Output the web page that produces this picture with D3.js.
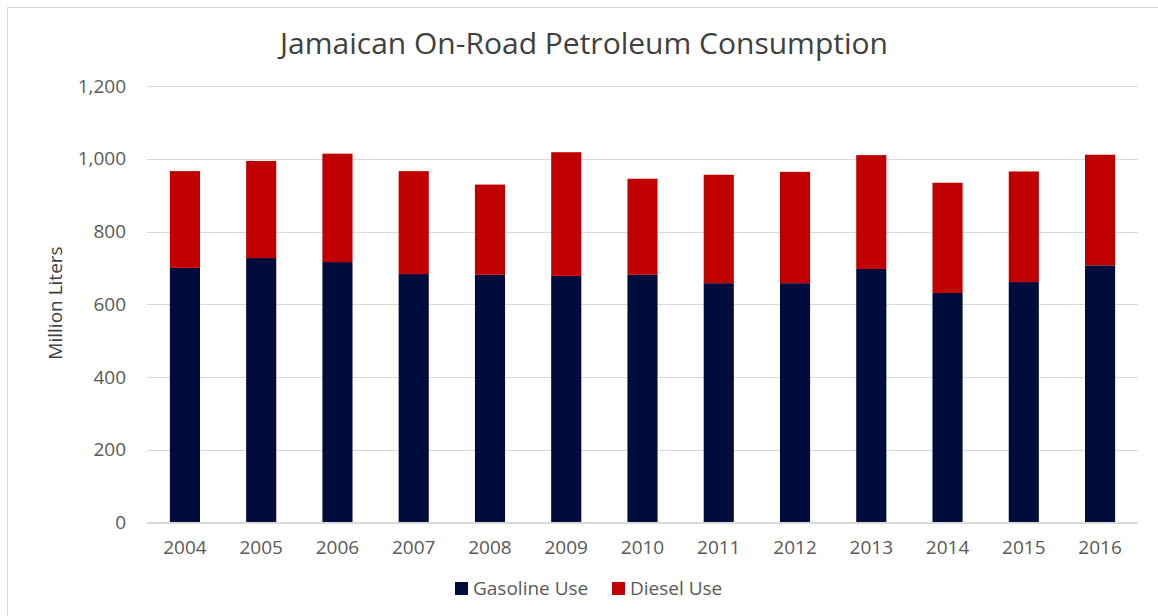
<!DOCTYPE html>
<html>
<head>
<meta charset="utf-8">
<script src="https://cdn.jsdelivr.net/npm/d3@7"></script>
<style>
  body { margin: 0; background: #fff; }
  text { font-family: "Open Sans", sans-serif; }
</style>
</head>
<body>
<div class="container"></div>
<script>
const years = ['2004','2005','2006','2007','2008','2009','2010','2011','2012','2013','2014','2015','2016'];
const gasoline = [700, 727, 716, 683, 681, 678, 681, 658, 658, 697, 631, 661, 707];
const diesel   = [266, 267, 298, 283, 248, 340, 264, 298, 306, 313, 303, 304, 304];
const yTicks = [0, 200, 400, 600, 800, 1000, 1200];
const seriesNames = ['Gasoline Use', 'Diesel Use'];
const colors = ['#000c3b', '#c00000'];

const W = 1158, H = 616;

const svg = d3.select('.container')
    .append('svg')
    .attr('width', W)
    .attr('height', H);

// chart frame
svg.append('rect')
    .attr('x', 7.5).attr('y', 7.5)
    .attr('width', 1170).attr('height', 640)
    .attr('fill', 'none')
    .attr('stroke', '#d9d9d9');

let rows = years.map((y, i) => ({ year: y, gas: gasoline[i], diesel: diesel[i] }));
let stacked = d3.stack().keys(['gas', 'diesel'])(rows);

const x = d3.scaleBand()
    .domain(years)
    .range([147, 1138])
    .paddingInner(0.605)
    .paddingOuter(0.3);

const y = d3.scaleLinear()
    .domain([0, 1200])
    .range([522.5, 86]);

// gridlines
svg.append('g')
    .selectAll('line')
    .data(yTicks)
    .enter()
    .append('line')
    .attr('x1', 147).attr('x2', 1138)
    .attr('y1', d => Math.round(y(d)) + 0.5)
    .attr('y2', d => Math.round(y(d)) + 0.5)
    .attr('stroke', '#d9d9d9')
    .attr('stroke-width', 1);

// y axis labels
const yAxis = svg.append('g')
    .attr('transform', 'translate(126,0)')
    .call(d3.axisLeft(y).tickValues(yTicks).tickSize(0).tickPadding(0).tickFormat(d3.format(',')));
yAxis.select('.domain').remove();
yAxis.selectAll('text')
    .attr('fill', '#595959')
    .style('font-size', '19px');

// bars
svg.append('g')
    .selectAll('g')
    .data(stacked)
    .enter()
    .append('g')
    .attr('fill', (d, i) => colors[i])
    .selectAll('rect')
    .data(d => d)
    .enter()
    .append('rect')
    .attr('x', d => x(d.data.year))
    .attr('width', x.bandwidth())
    .attr('y', d => y(d[1]))
    .attr('height', d => y(d[0]) - y(d[1]));

// x axis
const xAxis = svg.append('g')
    .attr('transform', 'translate(0,' + 522.5 + ')')
    .call(d3.axisBottom(x).tickSize(0).tickPadding(18));
xAxis.select('.domain')
    .attr('stroke', '#d9d9d9')
    .attr('d', 'M147,0H1138');
xAxis.selectAll('text')
    .attr('fill', '#595959')
    .style('font-size', '19px');

// title
svg.append('text')
    .attr('x', 584).attr('y', 54)
    .attr('text-anchor', 'middle')
    .attr('fill', '#404040')
    .style('font-size', '30px')
    .text('Jamaican On-Road Petroleum Consumption');

// y axis title
svg.append('text')
    .attr('transform', 'translate(62,303) rotate(-90)')
    .attr('text-anchor', 'middle')
    .attr('fill', '#404040')
    .style('font-size', '19px')
    .text('Million Liters');

// legend
const legendX = [455, 612];
const legend = svg.append('g')
    .selectAll('g')
    .data(seriesNames)
    .enter()
    .append('g')
    .attr('transform', (d, i) => 'translate(' + legendX[i] + ',582)');
legend.append('rect')
    .attr('width', 13).attr('height', 13)
    .attr('fill', (d, i) => colors[i]);
legend.append('text')
    .attr('x', 18).attr('y', 13)
    .attr('fill', '#595959')
    .style('font-size', '19px')
    .text(d => d);
</script>
</body>
</html>
